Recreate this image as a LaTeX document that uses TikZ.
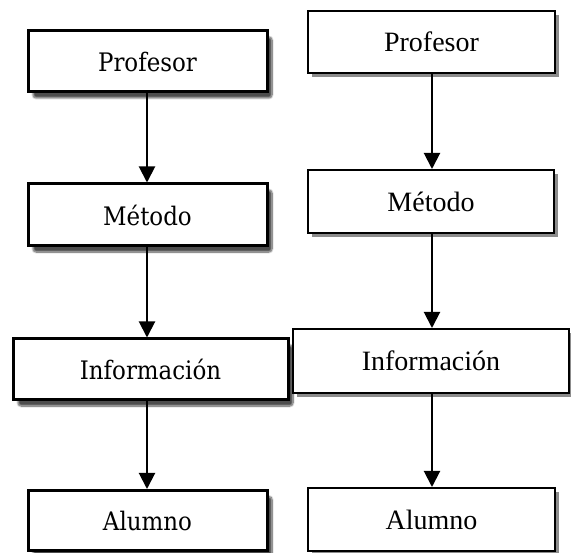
\documentclass[tikz,border=0pt]{standalone}
\usepackage{fontspec}
\newfontfamily\timesfont{Liberation Serif}
\newfontfamily\leftfont{DejaVu Serif Condensed}
\usetikzlibrary{arrows.meta,shadows,shadows.blur}
\tikzset{
  leftbox/.style={draw=black, line width=3pt, fill=white, inner sep=0pt,
    font=\leftfont\fontsize{25.5}{28}\selectfont, text=black,
    blur shadow={shadow xshift=5pt, shadow yshift=-6pt, shadow blur steps=10, shadow blur extra rounding=3pt, shadow opacity=70}},
  rightbox/.style={draw=black, line width=2pt, fill=white, inner sep=0pt,
    font=\timesfont\fontsize{28}{30}\selectfont,
    drop shadow={shadow xshift=4pt, shadow yshift=-4pt, fill=black!45, opacity=1}},
  flow/.style={line width=2pt, -{Triangle[length=16pt,width=16pt]}}
}
\begin{document}
\begin{tikzpicture}[x=1pt,y=-1pt]
\useasboundingbox (0,0) rectangle (571,553);
% left column
\node[leftbox, minimum width=239pt, minimum height=61pt] (lp) at (147.5,61.5) {Profesor};
\node[leftbox, minimum width=239pt, minimum height=62pt] (lm) at (147.5,215) {Método};
\node[leftbox, minimum width=275pt, minimum height=61pt] (li) at (150.5,369.5) {Información};
\node[leftbox, minimum width=239pt, minimum height=60pt] (la) at (147.5,520.5) {Alumno};
\draw[flow] (lp.south -| 147,0) -- (lm.north -| 147,0);
\draw[flow] (lm.south -| 147,0) -- (li.north -| 147,0);
\draw[flow] (li.south -| 147,0) -- (la.north -| 147,0);
% right column
\node[rightbox, minimum width=247pt, minimum height=62pt] (rp) at (431.5,42) {Profesor};
\node[rightbox, minimum width=246pt, minimum height=63pt] (rm) at (431,201.5) {Método};
\node[rightbox, minimum width=276pt, minimum height=64pt] (ri) at (431,361) {Información};
\node[rightbox, minimum width=247pt, minimum height=63pt] (ra) at (431.5,519.5) {Alumno};
\draw[flow] (rp.south -| 432,0) -- (rm.north -| 432,0);
\draw[flow] (rm.south -| 432,0) -- (ri.north -| 432,0);
\draw[flow] (ri.south -| 432,0) -- (ra.north -| 432,0);
\end{tikzpicture}
\end{document}
